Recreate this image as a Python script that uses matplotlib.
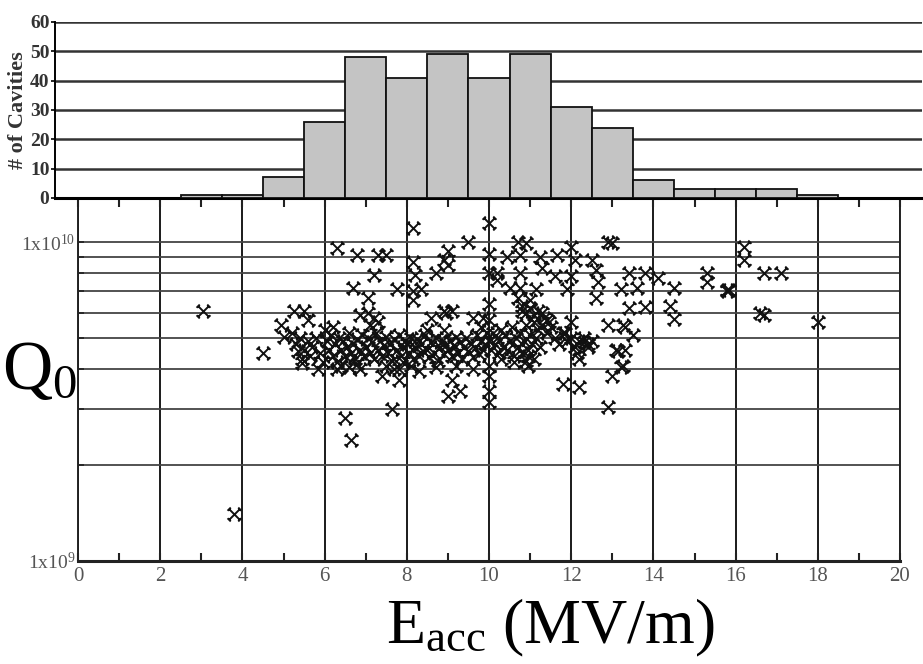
import numpy as np
import matplotlib
matplotlib.use('Agg')
import matplotlib.pyplot as plt
from matplotlib.path import Path
from matplotlib.ticker import FixedLocator, NullFormatter

plt.rcParams['font.family'] = ['Liberation Serif', 'DejaVu Serif']
plt.rcParams['mathtext.fontset'] = 'custom'
plt.rcParams['mathtext.rm'] = 'Liberation Serif'
plt.rcParams['mathtext.it'] = 'Liberation Serif:italic'

# histogram: number of cavities per 1 MV/m bin (bin centres)
bin_centres = [3, 4, 5, 6, 7, 8, 9, 10, 11, 12, 13, 14, 15, 16, 17, 18]
cavity_counts = [1, 1, 7, 26, 48, 41, 49, 41, 49, 31, 24, 6, 3, 3, 3, 1]
hist_yticks = [0, 10, 20, 30, 40, 50, 60]

# scatter: E_acc (MV/m) and Q0 (units of 1e9)
# outliers and sparse points
e_sparse = [3.05, 3.8, 4.5, 6.5, 6.65, 7.65, 8.15, 10.0,
            6.3, 6.8, 7.3, 7.5, 7.2, 6.7, 7.05, 8.15, 8.2, 7.75, 8.15, 8.35, 8.15,
            8.7, 8.9, 9.5, 9.0, 9.0, 10.7, 10.9, 10.45, 10.75, 10.2, 10.75, 11.25,
            11.65, 11.3, 11.6, 12.0, 12.1, 12.0, 11.9, 12.9, 13.0, 12.5, 12.6, 12.65,
            12.6, 13.2, 10.2, 10.5, 10.75, 10.7, 11.0, 11.15,
            6.85, 7.2, 7.05, 5.5, 5.25, 5.6, 4.95, 5.0, 8.9, 8.6, 9.1, 8.95, 9.6,
            9.85, 10.8, 11.4, 12.9, 13.25, 11.85, 12.0, 12.3, 12.4,
            5.45, 5.85, 6.3, 6.85, 7.4, 7.8, 7.8, 9.3, 9.0, 9.1, 10.95, 10.95, 12.2,
            12.15, 12.2, 11.8, 13.1, 13.15, 13.2, 13.0, 12.9,
            13.4, 13.8, 13.6, 13.3, 13.5, 13.3, 13.25, 13.8, 13.4, 14.1, 14.5, 14.4,
            14.5, 15.3, 15.3, 15.8, 15.85, 15.8, 16.2, 16.2, 16.7, 17.1, 16.6, 16.7,
            18.0,
            10.0, 10.0, 10.0, 10.0, 10.0, 10.0, 10.0, 10.0]
q_sparse = [6.1, 1.4, 4.5, 2.8, 2.4, 3.0, 11.1, 11.5,
            9.6, 9.1, 9.1, 9.1, 7.9, 7.2, 6.7, 8.65, 7.9, 7.1, 7.0, 7.1, 6.6,
            8.0, 8.8, 10.0, 9.4, 8.5, 10.0, 9.9, 8.95, 9.1, 8.0, 8.0, 8.95,
            9.1, 8.3, 7.8, 9.65, 8.8, 7.8, 7.1, 10.0, 9.9, 8.8, 8.2, 7.5,
            6.7, 7.1, 7.6, 7.2, 7.2, 6.7, 6.6, 7.1,
            5.9, 5.8, 6.0, 6.1, 6.1, 5.7, 5.5, 5.05, 6.1, 5.8, 6.1, 6.0, 5.8,
            5.8, 6.1, 5.7, 5.5, 5.5, 5.2, 5.6, 5.0, 4.7,
            4.17, 4.0, 4.0, 4.0, 3.8, 3.7, 4.0, 3.4, 3.3, 3.7, 4.1, 4.4, 4.3,
            4.5, 3.5, 3.6, 4.6, 4.55, 4.05, 3.8, 3.05,
            8.0, 8.0, 7.2, 5.4, 5.1, 4.6, 4.1, 6.25, 6.2, 7.7, 7.2, 6.3,
            5.75, 8.0, 7.5, 7.07, 7.07, 7.0, 9.65, 8.8, 8.0, 8.0, 6.0, 5.9,
            5.6,
            4.1, 3.8, 3.4, 3.15, 5.7, 6.4, 9.2, 8.0]

# dense band of cavities around Q0 ~ 4-6e9
e_band = [5.3, 5.4, 5.5, 5.6, 5.7, 5.8, 5.9, 5.45, 5.65, 5.95, 5.2, 5.35,
          6.05, 6.1, 6.15, 6.2, 6.25, 6.3, 6.35, 6.4, 6.45, 6.5, 6.55, 6.6, 6.65,
          6.7, 6.75, 6.8, 6.85, 6.9, 6.95, 6.0, 6.2, 6.4, 6.6, 6.8,
          7.0, 7.05, 7.1, 7.15, 7.2, 7.25, 7.3, 7.35, 7.4, 7.45, 7.5, 7.55, 7.6,
          7.65, 7.7, 7.75, 7.8, 7.85, 7.9, 7.95, 7.1, 7.3, 7.5, 7.7, 7.9,
          8.0, 8.05, 8.1, 8.15, 8.2, 8.25, 8.3, 8.35, 8.4, 8.45, 8.5, 8.55, 8.6,
          8.65, 8.7, 8.75, 8.8, 8.85, 8.9, 8.95, 8.1, 8.3, 8.5, 8.7, 8.9,
          9.0, 9.05, 9.1, 9.15, 9.2, 9.25, 9.3, 9.35, 9.4, 9.45, 9.5, 9.55, 9.6,
          9.65, 9.7, 9.75, 9.8, 9.85, 9.9, 9.95, 9.2, 9.6, 9.8,
          10.0, 10.05, 10.1, 10.15, 10.2, 10.25, 10.3, 10.35, 10.4, 10.45, 10.5,
          10.55, 10.6, 10.65, 10.7, 10.75, 10.8, 10.85, 10.9, 10.95, 11.0, 11.05,
          11.1, 11.15, 11.2, 11.25, 11.3, 11.35, 11.4, 11.45, 10.9, 11.0, 11.1,
          11.2, 11.3, 10.8, 10.6, 10.9, 11.1, 10.3,
          11.5, 11.6, 11.7, 11.8, 11.9, 12.0, 12.1, 12.2, 12.3, 12.4, 12.5]
q_band = [4.8, 5.0, 4.6, 4.9, 4.7, 5.0, 4.5, 4.3, 4.4, 4.2, 5.2, 4.55,
          4.9, 4.6, 5.1, 4.4, 4.8, 4.2, 5.0, 4.6, 4.9, 4.4, 4.7, 5.2, 4.5,
          4.8, 4.3, 4.95, 4.6, 5.1, 4.4, 5.3, 5.4, 4.1, 4.05, 4.15,
          4.7, 5.0, 4.5, 4.85, 4.3, 5.2, 4.6, 4.9, 4.4, 4.75, 5.05, 4.5, 4.8,
          4.25, 4.95, 4.6, 5.1, 4.4, 4.7, 4.9, 5.5, 5.6, 4.1, 4.0, 4.2,
          4.8, 4.5, 5.0, 4.3, 4.7, 4.95, 4.4, 4.8, 4.55, 5.1, 4.6, 4.35, 4.85,
          4.5, 5.0, 4.25, 4.7, 4.9, 4.45, 4.75, 4.1, 3.95, 5.3, 4.05, 5.3,
          4.6, 4.9, 4.4, 4.75, 5.05, 4.5, 4.85, 4.3, 4.7, 5.0, 4.55, 4.8, 4.35,
          4.65, 5.1, 4.45, 4.9, 4.6, 4.8, 5.2, 4.1, 4.0, 5.4,
          4.9, 4.6, 5.2, 4.8, 5.0, 4.5, 5.3, 4.7, 5.1, 4.6, 4.9,
          5.4, 4.4, 5.0, 4.7, 5.2, 4.5, 4.9, 5.5, 4.6, 5.1, 4.8,
          5.6, 5.0, 5.3, 4.7, 5.5, 5.8, 5.2, 5.6, 6.0, 6.2, 5.9,
          6.1, 6.0, 6.3, 4.2, 4.25, 4.3, 4.3,
          5.4, 5.0, 4.8, 5.2, 4.9, 5.0, 4.7, 4.9, 4.85, 4.8, 4.9]

x_ticks = [0, 2, 4, 6, 8, 10, 12, 14, 16, 18, 20]

# x-shaped marker with little cross bars at the arm ends
verts, codes = [], []
for sx, sy in [(1, 1), (-1, 1), (1, -1), (-1, -1)]:
    verts += [(0, 0), (sx, sy)]
    codes += [Path.MOVETO, Path.LINETO]
    verts += [(sx - 0.3 * sy, sy + 0.3 * sx), (sx + 0.3 * sy, sy - 0.3 * sx)]
    codes += [Path.MOVETO, Path.LINETO]
star = Path(verts, codes)

fig = plt.figure(figsize=(9.23, 6.64), dpi=100)

# ---- scatter ----
ax = fig.add_axes([78 / 923, 1 - 561 / 664, 822 / 923, 362 / 664])
ax.set_yscale('log')
ax.set_xlim(0, 20)
ax.set_ylim(1e9, 10 ** 10.135)

e_all = np.array(e_sparse + e_band)
q_all = np.array(q_sparse + q_band) * 1e9
ax.plot(e_all, q_all, linestyle='none', marker=star, markersize=10,
        markerfacecolor='none', markeredgecolor='#111111', markeredgewidth=1.4,
        zorder=3)

ax.set_xticks(x_ticks)
ax.set_xticks(range(0, 21), minor=True)
ax.set_xticklabels([str(t) for t in x_ticks], fontsize=15, color='#555555')
ax.yaxis.set_major_locator(FixedLocator([1e9, 1e10]))
ax.yaxis.set_minor_locator(FixedLocator([k * 1e9 for k in range(2, 10)]))
ax.yaxis.set_minor_formatter(NullFormatter())
ax.set_yticklabels([r'1x10$^{9}$', r'1x10$^{10}$'], fontsize=14, color='#555555')
ax.tick_params(axis='x', which='both', direction='in', top=True, length=6,
               width=1.5, color='#222222', pad=4)
ax.tick_params(axis='y', which='both', direction='in', length=4, width=1.2,
               color='#222222', pad=2)
ax.grid(True, axis='x', which='major', color='#1a1a1a', linewidth=1.4, zorder=1)
ax.grid(True, axis='y', which='both', color='#444444', linewidth=1.3, zorder=1)
ax.set_axisbelow(True)
for side in ['left', 'right']:
    ax.spines[side].set_linewidth(1.4)
    ax.spines[side].set_color('#222222')
ax.spines['bottom'].set_linewidth(2.2)
ax.spines['bottom'].set_color('#222222')
ax.spines['top'].set_visible(False)

# ---- histogram ----
ah = fig.add_axes([55 / 923, 1 - 198 / 664, 867 / 923, 176 / 664])
ah.set_xlim((55 - 78) / 41.1, (922 - 78) / 41.1)
ah.set_ylim(0, 60)
ah.bar(bin_centres, cavity_counts, width=1.0, color='#c4c4c4',
       edgecolor='#111111', linewidth=1.3, zorder=3)
ah.set_yticks(hist_yticks)
ah.set_yticklabels([str(t) for t in hist_yticks], fontsize=14,
                   fontweight='bold', color='#333333')
ah.set_xticks([])
ah.tick_params(axis='y', direction='out', length=3, width=1.2, pad=1)
ah.grid(True, axis='y', color='#333333', linewidth=1.8, zorder=1)
ah.set_axisbelow(True)
for side in ['top', 'right']:
    ah.spines[side].set_visible(False)
ah.spines['left'].set_linewidth(1.4)
ah.spines['bottom'].set_linewidth(2.2)
ah.patch.set_alpha(0)
ah.set_ylabel('# of Cavities', fontsize=16, fontweight='bold',
              color='#333333', labelpad=1)

# ---- big axis labels ----
fig.text(0.002, 1 - 372 / 664, r'$\mathrm{Q_0}$', fontsize=50,
         ha='left', va='center')
fig.text(550 / 923, 1 - 628 / 664, r'$\mathrm{E_{acc}}$ (MV/m)', fontsize=46,
         ha='center', va='center')

fig.savefig('out.png', dpi=100)
